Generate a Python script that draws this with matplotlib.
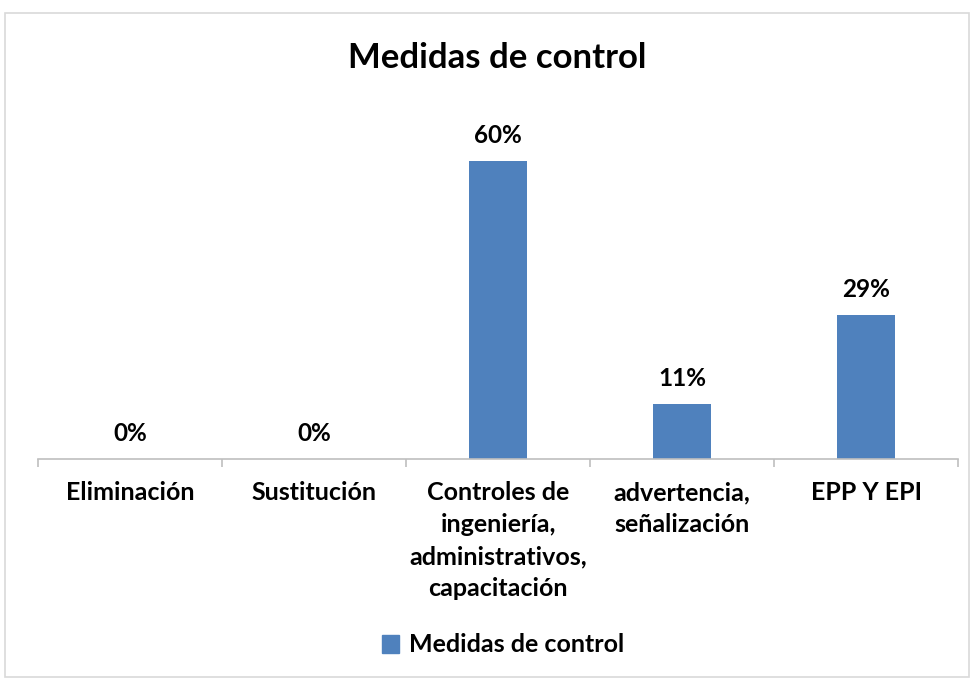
import matplotlib
matplotlib.use("Agg")
import matplotlib.pyplot as plt
from matplotlib.patches import Rectangle, Patch

categories = ["Eliminación", "Sustitución",
              "Controles de\ningeniería,\nadministrativos,\ncapacitación",
              "advertencia,\nseñalización", "EPP Y EPI"]
values = [0, 0, 60, 11, 29]
labels = ["0%", "0%", "60%", "11%", "29%"]
series_name = "Medidas de control"
title = "Medidas de control"

W, H = 971, 679
plt.rcParams['font.family'] = ['Lato', 'DejaVu Sans']
plt.rcParams['font.weight'] = 'bold'
fig = plt.figure(figsize=(W / 100, H / 100), dpi=100)

# outer chart border
fig.patches.append(Rectangle((5 / W, 1 - 677 / H), (969 - 5) / W, (677 - 13) / H,
                             transform=fig.transFigure, fill=False,
                             edgecolor="#D9D9D9", linewidth=1.2))

ax_left, ax_right = 38, 958
ax_bottom, ax_top = 459, 100
ax = fig.add_axes([ax_left / W, 1 - ax_bottom / H, (ax_right - ax_left) / W, (ax_bottom - ax_top) / H])
px_per_unit = 4.97
ax.set_ylim(0, (ax_bottom - ax_top) / px_per_unit)
ax.set_xlim(-0.5, len(categories) - 0.5)

color = "#4F81BD"
x = list(range(len(categories)))
bars = ax.bar(x, values, width=0.31, color=color, label=series_name, zorder=2)
for xi, v, lab in zip(x, values, labels):
    ax.annotate(lab, (xi, v), xytext=(0, 10), textcoords="offset points",
                ha="center", va="bottom", fontsize=17.5, fontweight="bold", color="black")

for s in ["top", "right", "left"]:
    ax.spines[s].set_visible(False)
ax.spines["bottom"].set_color("#BFBFBF")
ax.spines["bottom"].set_linewidth(1.2)
ax.set_yticks([])
ax.set_xticks(x)
ax.set_xticklabels(categories, fontsize=18, fontweight="bold", linespacing=1.47)
ax.tick_params(axis="x", which="major", length=0, pad=16)
ax.set_xticks([i - 0.5 for i in range(len(categories) + 1)], minor=True)
ax.tick_params(axis="x", which="minor", length=6, color="#BFBFBF", width=1.2, direction="out")

fig.text(497 / W, 1 - 58 / H, title, ha="center", va="center", fontsize=25, fontweight="bold")

handle = Patch(facecolor=color, edgecolor=color)
fig.legend([handle], [series_name], loc="center", bbox_to_anchor=(503 / W, 1 - 645 / H),
           frameon=False, handlelength=0.7, handleheight=0.7, handletextpad=0.4,
           prop={"weight": "bold", "size": 18})

fig.savefig("out.png", dpi=100)
